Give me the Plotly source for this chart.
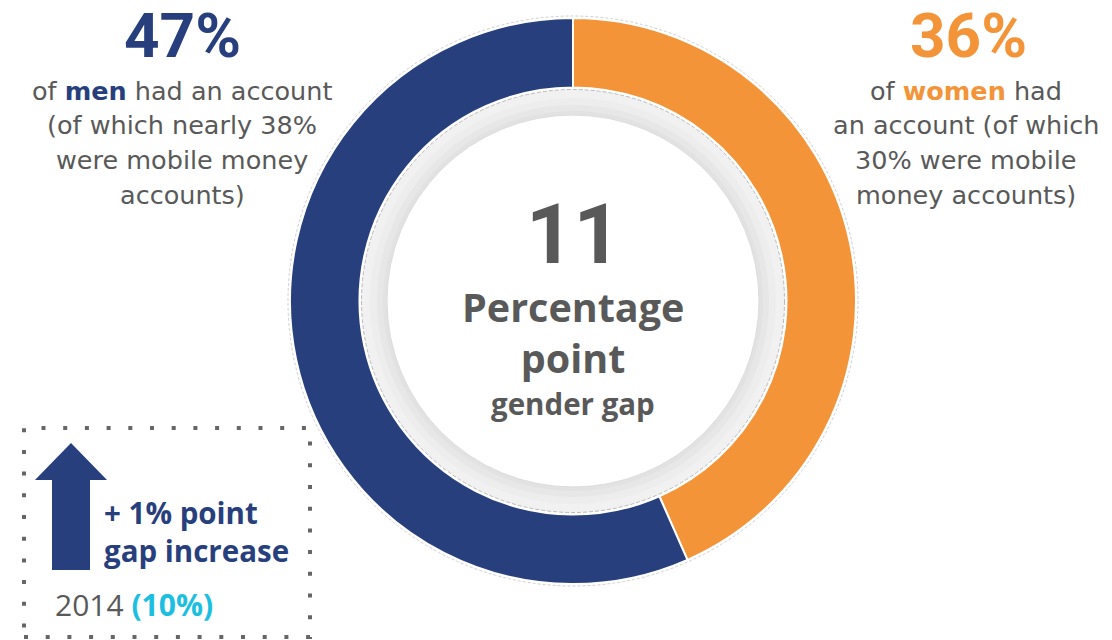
import plotly.graph_objects as go

# ---- data ----
groups = ["Women", "Men"]
account_share = [36, 47]
slice_colors = ["#F39438", "#283F7E"]
gap_points = account_share[1] - account_share[0]
gap_2014 = 10
gap_change = gap_points - gap_2014

W, H = 1112, 640
BODY = "DejaVu Sans"
HEAD = "Open Sans"
BIG = "Roboto"
GRAY = "#595959"
NAVY = "#283F7E"
ORANGE = "#F39438"
CYAN = "#1CBFE0"

CX, CY, R_OUT = 573, 301, 283
R_IN = 213.5


def px(x):
    return x / W


def py(y):
    return 1 - y / H


fig = go.Figure()
fig.add_trace(go.Pie(
    labels=groups, values=account_share, sort=False, direction="clockwise",
    rotation=0, hole=R_IN / R_OUT, textinfo="none", hoverinfo="label+value",
    marker=dict(colors=slice_colors, line=dict(color="white", width=2)),
    domain=dict(x=[px(CX - R_OUT), px(CX + R_OUT)], y=[py(CY + R_OUT), py(CY - R_OUT)]),
    showlegend=False,
))

shapes = []


def circle(r, fill, line, lw=1, dash="solid", layer="below"):
    shapes.append(dict(type="circle", xref="paper", yref="paper",
                       x0=px(CX - r), x1=px(CX + r), y0=py(CY + r), y1=py(CY - r),
                       fillcolor=fill, line=dict(color=line, width=lw, dash=dash), layer=layer))


# outer thin outline
circle(R_OUT + 2, "rgba(0,0,0,0)", "#cfcfcf", 1, "3px,2px")
# grey bevel ring inside hole
circle(211.5, "#f1f1f1", "#b9b9b9", 1, "4px,2px")
circle(203, "#ededed", "rgba(0,0,0,0)", 0)
circle(196, "#e7e7e7", "rgba(0,0,0,0)", 0)
circle(190, "#e2e2e2", "rgba(0,0,0,0)", 0)
circle(186, "white", "#dcdcdc", 1)

# dotted box
shapes.append(dict(type="rect", xref="paper", yref="paper",
                   x0=px(24), x1=px(310), y0=py(637), y1=py(428),
                   line=dict(color="#666666", width=4, dash="4px,17.7px"),
                   fillcolor="rgba(0,0,0,0)", layer="above"))
# arrow
pts = [(52, 570), (52, 480), (35, 480), (71, 443), (107, 480), (90, 480), (90, 570)]
path = "M " + " L ".join(f"{px(a):.5f},{py(b):.5f}" for a, b in pts) + " Z"
shapes.append(dict(type="path", xref="paper", yref="paper", path=path,
                   fillcolor=NAVY, line=dict(color=NAVY, width=0), layer="above"))

ann = []


def text(x, y, t, size, color=GRAY, bold=False, xanchor="center", family=BODY):
    if bold:
        t = f"<b>{t}</b>"
    ann.append(dict(x=px(x), y=py(y), xref="paper", yref="paper", text=t,
                    showarrow=False, xanchor=xanchor, yanchor="middle", align=xanchor if xanchor != "center" else "center",
                    font=dict(family=family, size=size, color=color)))


# men side
text(182, 35, f"{account_share[1]}%", 62, NAVY, True, family=BIG)
men_lines = [f"of <b><span style='color:{NAVY}'>men</span></b> had an account",
             "(of which nearly 38%", "were mobile money", "accounts)"]
for i, ln in enumerate(men_lines):
    text(182, 91 + 34.5 * i, ln, 25.5)

# women side
text(968, 35, f"{account_share[0]}%", 62, ORANGE, True, family=BIG)
women_lines = [f"of <b><span style='color:{ORANGE}'>women</span></b> had",
               "an account (of which", "30% were mobile", "money accounts)"]
for i, ln in enumerate(women_lines):
    text(966, 91 + 34.5 * i, ln, 25.5)

# center
text(CX, 234, f"{gap_points}", 83, GRAY, True, family=BIG)
text(CX, 332.5, "Percentage<br>point", 39.5, GRAY, True, family=HEAD)
text(CX, 403, "gender gap", 29.5, GRAY, True, family=HEAD)

# box text
text(102, 531.5, f"+ {gap_change}% point<br>gap increase", 29.5, NAVY, True, "left", family=HEAD)
text(53, 604.5, f"2014 <b><span style='color:{CYAN}'>({gap_2014}%)</span></b>", 30, GRAY,
     False, "left", family=HEAD)

fig.update_layout(width=W, height=H, margin=dict(l=0, r=0, t=0, b=0),
                  paper_bgcolor="white", plot_bgcolor="white",
                  shapes=shapes, annotations=ann, showlegend=False)
fig.write_html("out.html", config={"displayModeBar": False},
               post_script="document.body.style.margin='0px';")
